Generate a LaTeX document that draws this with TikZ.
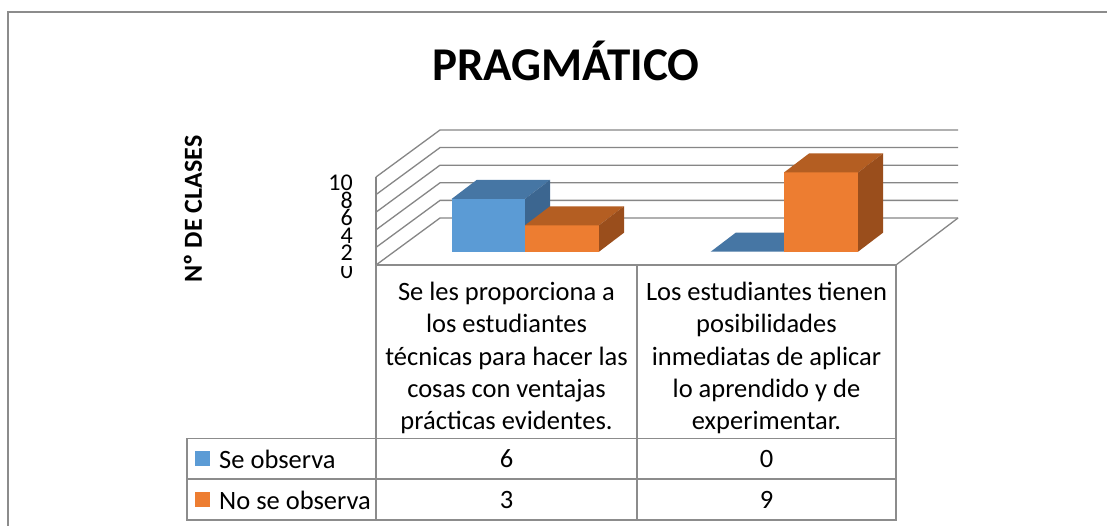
\documentclass[tikz,border=0pt]{standalone}
\usepackage{fontspec}
\setmainfont{Carlito}
\definecolor{gridgray}{RGB}{134,134,134}
\definecolor{framegray}{RGB}{140,140,140}
\definecolor{bluefront}{HTML}{5B9BD5}
\definecolor{bluetop}{HTML}{4676A4}
\definecolor{blueside}{HTML}{3C6690}
\definecolor{orangefront}{HTML}{ED7D31}
\definecolor{orangetop}{HTML}{B45E22}
\definecolor{orangeside}{HTML}{9A4E1C}
\newcommand\mycuboid[6]{%
  \fill[#4] (#1,251.7) rectangle (#2,#3);
  \fill[#5] (#1,#3) -- (#2,#3) -- ++(25,-19) -- ({#1+25},{#3-19}) -- cycle;
  \fill[#6] (#2,#3) -- ++(25,-19) -- ++(0,{251.7-(#3)}) -- (#2,251.7) -- cycle;}
\begin{document}
\begin{tikzpicture}[x=1pt,y=-1pt,
  grid/.style={draw=gridgray, line width=1.3pt},
  tab/.style={draw=framegray, line width=1.8pt},
  cell/.style={font=\fontsize{26.5}{32.2}\selectfont, align=center, inner sep=0pt},
  tick/.style={font=\fontsize{24}{24}\selectfont, anchor=east, inner sep=0pt}]
\useasboundingbox (0,0) rectangle (1107,526);
\fill[white] (0,0) rectangle (1107,526);
\draw[framegray, line width=1.8pt] (8,527) -- (8,12) -- (1108,12);
% title
\node[font=\fontsize{47}{54}\selectfont\bfseries, anchor=base, inner sep=0pt] (title) at (566,81) {PRAGMÁTICO};
% y label
\node[rotate=90, font=\fontsize{26}{30}\selectfont\bfseries, inner sep=0pt] (ylabel) at (193,209) {Nº DE CLASES};
% grid
\foreach \v in {0,2,...,10}{
  \draw[grid] (376,{265-8.8*\v}) -- (440,{218-8.8*\v}) -- (958,{218-8.8*\v});
}
\draw[grid] (376,177) -- (376,265);
\draw[grid] (896,265) -- (958,218);
% ticks
\foreach \v in {2,4,...,10}{
  \node[tick] (tick\v) at (353,{270.5-8.8*\v}) {\v};
}
\begin{scope}
  \clip (300,266.5) rectangle (370,300);
  \node[tick] (tick0) at (353,270.5) {0};
\end{scope}
% bars
\mycuboid{451.7}{525}{198.9}{bluefront}{bluetop}{blueside}
\mycuboid{525}{599}{225.3}{orangefront}{orangetop}{orangeside}
\fill[bluetop] (710.7,251.7) -- (784,251.7) -- (809,232.7) -- (735.7,232.7) -- cycle;
\mycuboid{784}{858}{172.5}{orangefront}{orangetop}{orangeside}
% table
\draw[tab] (376,265) -- (896,265);
\draw[tab] (376,265) -- (376,520);
\draw[tab] (637,265) -- (637,520);
\draw[tab] (896,265) -- (896,520);
\draw[tab] (187,438.5) rectangle (896,520);
\draw[tab] (187,479) -- (896,479);
\node[cell] (h1) at (506.5,358) {Se les proporciona a\\los estudiantes\\técnicas para hacer las\\cosas con ventajas\\prácticas evidentes.};
\node[cell] (h2) at (766.5,358) {Los estudiantes tienen\\posibilidades\\inmediatas de aplicar\\lo aprendido y de\\experimentar.};
\fill[bluefront] (195,451) rectangle (210,466);
\fill[orangefront] (195,492) rectangle (210,507);
\node[cell, anchor=west] (l1) at (219,459) {Se observa};
\node[cell, anchor=west] (l2) at (219,500) {No se observa};
\node[cell] (v11) at (506.5,459) {6};
\node[cell] (v12) at (766.5,459) {0};
\node[cell] (v21) at (506.5,500) {3};
\node[cell] (v22) at (766.5,500) {9};
\end{tikzpicture}
\end{document}
